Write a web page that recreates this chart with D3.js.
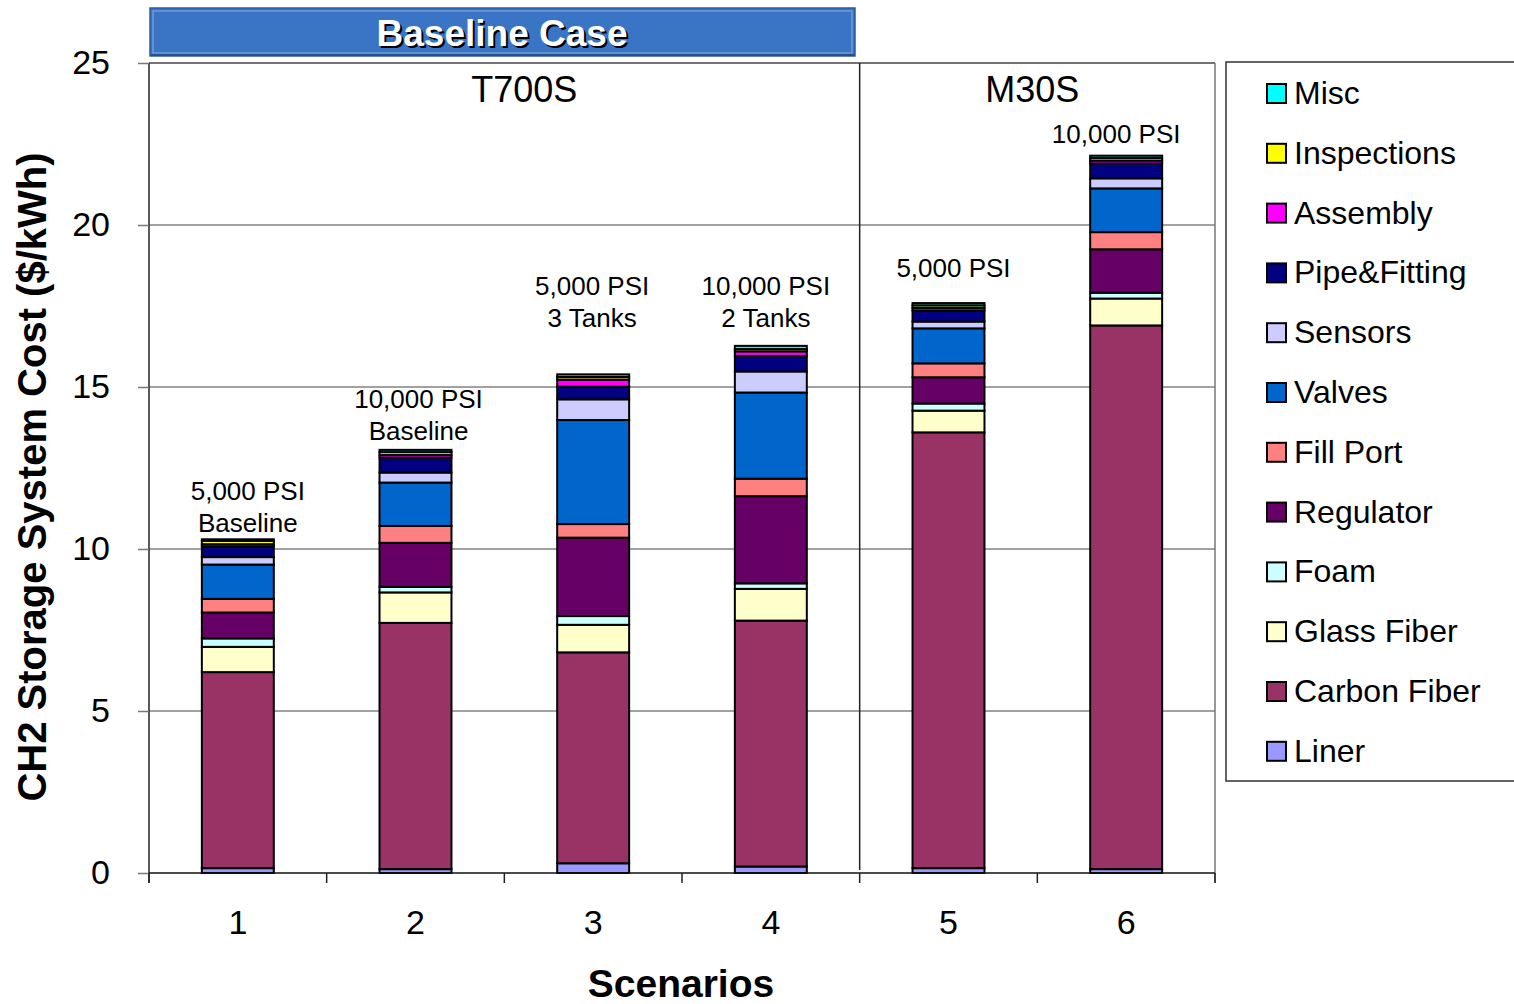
<!DOCTYPE html>
<html><head><meta charset="utf-8">
<script src="https://cdn.jsdelivr.net/npm/d3@7"></script>
<style>body{margin:0;background:#fff;}svg{display:block;font-family:"Liberation Sans",Arial,sans-serif;}</style>
</head><body><svg id="c" width="1514" height="1004"></svg>
<script>
const scenarios = ["1","2","3","4","5","6"];
const seriesNames = ["Liner","Carbon Fiber","Glass Fiber","Foam","Regulator","Fill Port","Valves","Sensors","Pipe&Fitting","Assembly","Inspections","Misc"];
const seriesColors = ["#9999ff","#993366","#ffffcc","#ccffff","#660066","#ff8080","#0066cc","#ccccff","#000080","#ff00ff","#ffff00","#00ffff"];
const liner       = [0.15,0.12,0.30,0.20,0.15,0.12];
const carbonFiber = [6.05,7.60,6.51,7.59,13.45,16.78];
const glassFiber  = [0.78,0.94,0.85,0.98,0.67,0.83];
const foam        = [0.26,0.17,0.27,0.17,0.22,0.18];
const regulator   = [0.80,1.36,2.42,2.69,0.81,1.34];
const fillPort    = [0.42,0.52,0.42,0.54,0.43,0.53];
const valves      = [1.06,1.34,3.21,2.66,1.08,1.35];
const sensors     = [0.23,0.31,0.64,0.65,0.21,0.31];
const pipeFitting = [0.33,0.46,0.39,0.48,0.34,0.46];
const assembly    = [0.07,0.08,0.22,0.14,0.08,0.09];
const inspections = [0.10,0.09,0.08,0.07,0.08,0.08];
const misc        = [0.05,0.07,0.08,0.10,0.07,0.07];
const barLabels = [["5,000 PSI","Baseline"],["10,000 PSI","Baseline"],["5,000 PSI","3 Tanks"],["10,000 PSI","2 Tanks"],["5,000 PSI"],["10,000 PSI"]];
const yTicks = [0,5,10,15,20,25];
const groups = [{name:"T700S", from:"1", to:"4"},{name:"M30S", from:"5", to:"6"}];

// layout tweaks for the bar annotations (pixels): gap above bar top, horizontal shift
const labelGap = [7,10,47,19,26,13];
const labelShift = [10,3,-1,-5,5,-10];

const seriesValues = [liner,carbonFiber,glassFiber,foam,regulator,fillPort,valves,sensors,pipeFitting,assembly,inspections,misc];
const table = scenarios.map((s,i)=>{const o={scenario:s}; seriesNames.forEach((n,k)=>o[n]=seriesValues[k][i]); return o;});
const stack = d3.stack().keys(seriesNames)(table);

const svg = d3.select("#c");
const FONT = '"Liberation Sans", Arial, sans-serif';
const L=149,R=1215,T=63,B=873;
const x = d3.scaleBand().domain(scenarios).range([L,R]).paddingInner(0.595).paddingOuter(0.2975);
const y = d3.scaleLinear().domain([0,25]).range([B,T]);
const color = d3.scaleOrdinal().domain(seriesNames).range(seriesColors);

// gridlines
svg.append("g").selectAll("line").data(yTicks.filter(t=>t>0&&t<25)).join("line")
  .attr("x1",L).attr("x2",R).attr("y1",d=>y(d)).attr("y2",d=>y(d))
  .attr("stroke","#444").attr("stroke-width",1);
// top border
svg.append("line").attr("x1",L).attr("x2",R).attr("y1",T).attr("y2",T).attr("stroke","#444").attr("stroke-width",1.5);
// right border
svg.append("line").attr("x1",R).attr("x2",R).attr("y1",T).attr("y2",B+10).attr("stroke","#777").attr("stroke-width",1.5);
// group divider
const divX = (x("4")+x.bandwidth()+x("5"))/2;
svg.append("line").attr("x1",divX).attr("x2",divX).attr("y1",T).attr("y2",B-3).attr("stroke","#222").attr("stroke-width",1.5);

// bars
svg.append("g").selectAll("g").data(stack).join("g").attr("fill",d=>color(d.key))
  .selectAll("rect").data(d=>d).join("rect")
  .attr("x",d=>x(d.data.scenario)).attr("width",x.bandwidth())
  .attr("y",d=>y(d[1])).attr("height",d=>y(d[0])-y(d[1]))
  .attr("stroke","#000").attr("stroke-width",2);

// y axis
const yAxis = svg.append("g").attr("transform",`translate(${L},0)`)
  .call(d3.axisLeft(y).tickValues(yTicks).tickSize(11).tickPadding(28));
yAxis.select(".domain").attr("stroke","#222").attr("stroke-width",1.5).attr("d",`M0,${T}V${B+10}`);
yAxis.selectAll(".tick line").attr("stroke","#777").attr("stroke-width",1.5);
yAxis.selectAll(".tick text").attr("font-size",34).attr("fill","#000").attr("font-family",FONT);

// x axis
const xAxis = svg.append("g").attr("transform",`translate(0,${B})`)
  .call(d3.axisBottom(x).tickSize(0).tickPadding(37));
xAxis.select(".domain").attr("stroke","#111").attr("stroke-width",1.5).attr("d",`M${L},0H${R}`);
xAxis.selectAll(".tick text").attr("font-size",34).attr("fill","#000").attr("font-family",FONT);
// x category boundary ticks
const bounds = d3.range(scenarios.length+1).map(i=>L + i*(R-L)/scenarios.length);
svg.append("g").selectAll("line").data(bounds).join("line")
  .attr("x1",d=>d).attr("x2",d=>d).attr("y1",B).attr("y2",B+10)
  .attr("stroke","#222").attr("stroke-width",1.5);

// bar labels
const totals = table.map(r=>d3.sum(seriesNames,n=>r[n]));
scenarios.forEach((s,i)=>{
  const lines = barLabels[i];
  const cx = x(s)+x.bandwidth()/2 + labelShift[i];
  const topY = y(totals[i]);
  lines.forEach((t,j)=>{
    svg.append("text").attr("x",cx).attr("y",topY-labelGap[i]-(lines.length-1-j)*32)
      .attr("text-anchor","middle").attr("font-size",26).text(t);
  });
});

// group labels
groups.forEach(g=>{
  const a = g.name==="T700S" ? L : divX;
  const b = g.name==="T700S" ? divX : R;
  svg.append("text").attr("x",(a+b)/2+(g.name==="T700S"? 20: -5)).attr("y",102).attr("text-anchor","middle")
    .attr("font-size",36).text(g.name);
});

// title box
const tb = svg.append("g");
tb.append("rect").attr("x",150).attr("y",8).attr("width",705).attr("height",48).attr("fill","#3a74c4").attr("stroke","#2b5aa0").attr("stroke-width",1.5);
tb.append("rect").attr("x",153).attr("y",11).attr("width",699).attr("height",42).attr("fill","none").attr("stroke","#6f9ad8").attr("stroke-width",1.5);
tb.append("line").attr("x1",151).attr("x2",854).attr("y1",55).attr("y2",55).attr("stroke","#24508f").attr("stroke-width",2);
tb.append("text").attr("x",504).attr("y",48).attr("text-anchor","middle").attr("font-size",37).attr("font-weight","bold").attr("fill","#000").text("Baseline Case");
tb.append("text").attr("x",502).attr("y",46).attr("text-anchor","middle").attr("font-size",37).attr("font-weight","bold").attr("fill","#fff").text("Baseline Case");

// axis titles
svg.append("text").attr("transform","translate(46,477) rotate(-90)").attr("text-anchor","middle")
  .attr("font-size",40).attr("font-weight","bold").text("CH2 Storage System Cost ($/kWh)");
svg.append("text").attr("x",681).attr("y",997).attr("text-anchor","middle")
  .attr("font-size",39).attr("font-weight","bold").text("Scenarios");

// legend
const leg = svg.append("g");
leg.append("rect").attr("x",1226).attr("y",62).attr("width",300).attr("height",719).attr("fill","#fff").attr("stroke","#333").attr("stroke-width",1.5);
const legItems = seriesNames.slice().reverse();
leg.selectAll("g").data(legItems).join("g")
  .attr("transform",(d,i)=>`translate(1267,${93+i*59.8})`)
  .each(function(d){
    const g=d3.select(this);
    g.append("rect").attr("x",0).attr("y",-9).attr("width",19).attr("height",19).attr("fill",color(d)).attr("stroke","#000").attr("stroke-width",2);
    g.append("text").attr("x",27).attr("y",11).attr("font-size",32).text(d);
  });
</script></body></html>
